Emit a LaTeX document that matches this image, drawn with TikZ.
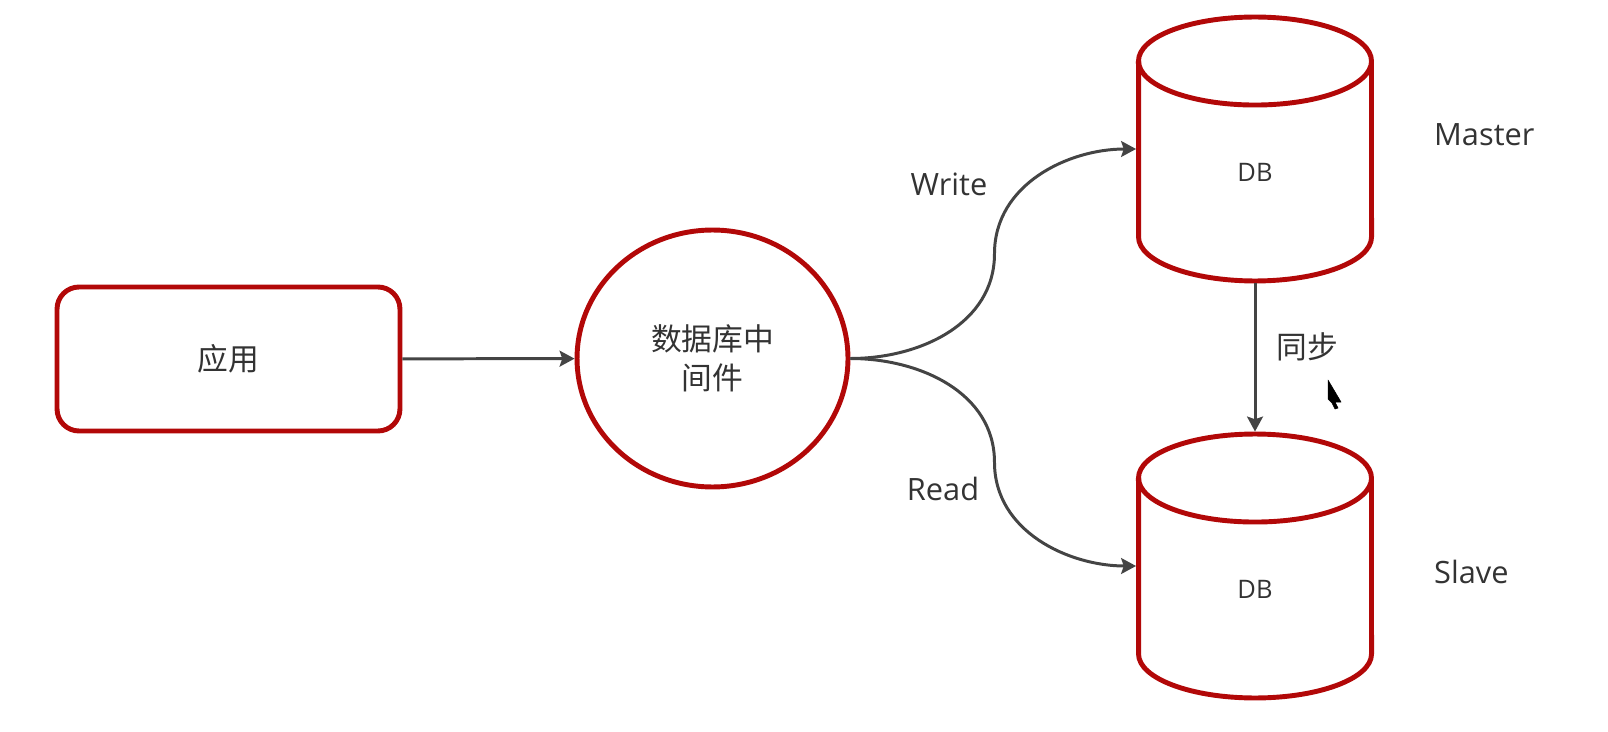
\documentclass[tikz,border=0pt]{standalone}
\usepackage{fontspec}
\setmainfont{Open Sans}
\newfontfamily\cjk{Noto Sans CJK SC}
\usetikzlibrary{arrows.meta,calc,positioning,shapes.geometric}
\definecolor{dbred}{RGB}{178,8,8}
\definecolor{linegray}{RGB}{68,68,68}
\definecolor{textgray}{RGB}{51,51,51}
\tikzset{
  redbox/.style={draw=dbred,line width=2.8pt,fill=white,text=textgray,inner sep=0pt},
  dbcyl/.style={minimum width=4.66cm,minimum height=5.28cm,inner sep=0pt,outer sep=0pt},
  flow/.style={draw=linegray,line width=1.7pt,-{Stealth[length=8.5pt,width=9pt,inset=1.5pt]}},
  lbl/.style={text=textgray,font=\fontsize{17.5}{22}\selectfont},
  cjklbl/.style={text=textgray,font=\cjk\fontsize{17.5}{22}\selectfont},
}

\begin{document}
\begin{tikzpicture}[x=0.02cm,y=0.02cm]
  \useasboundingbox (0,0) rectangle (1608,731);
  \node[redbox,cjklbl,rounded corners=0.44cm,minimum width=6.86cm,minimum height=2.88cm] (app) at (228.5,372) {应用};
  \node[redbox,cjklbl,ellipse,minimum width=5.42cm,minimum height=5.14cm,align=center] (mw) at (712.5,372.5) {数据库中\\间件};
  \node[dbcyl] (master) at (1255,582) {};
  \node[dbcyl] (slave) at (1255,165) {};
  \foreach \n in {master,slave}{
    \draw[dbred,line width=2.8pt,fill=white] ($(\n.north west)+(0,-44)$) -- ($(\n.south west)+(0,44)$)
      arc[start angle=180,end angle=360,x radius=116.5,y radius=44] -- ($(\n.north east)+(0,-44)$)
      arc[start angle=0,end angle=180,x radius=116.5,y radius=44] -- cycle;
    \draw[dbred,line width=2.8pt] ($(\n.north west)+(0,-44)$) arc[start angle=180,end angle=360,x radius=116.5,y radius=44];
    \node[text=textgray,font=\fontsize{14.5}{16}\selectfont] (\n-db) at ($(\n.center)+(0,-23)$) {DB};
  }
  \draw[flow] (app) -- (mw);
  \draw[flow,shorten >=1.4pt] (mw.east) to[out=0,in=-90] ($(mw.east)!0.5!(master.west)$) to[out=90,in=180] (master.west);
  \draw[flow,shorten >=1.4pt] (mw.east) to[out=0,in=90] ($(mw.east)!0.5!(slave.west)$) to[out=-90,in=180] (slave.west);
  \draw[flow,shorten <=1.4pt,shorten >=1.4pt] (master.south) -- (slave.north);
  \node[lbl] (write) at (949,547) {Write};
  \node[lbl] (read) at (943,242) {Read};
  \node[cjklbl] (sync) at (1307,384) {同步};
  \node[lbl,anchor=west] (mastername) at (1428,596) {Master};
  \node[lbl,anchor=west] (slavename) at (1428,159) {Slave};
  \draw[black,fill=black,line width=0.3pt,line join=round] (1328,351) -- ++(0,-19) -- ++(4,-4) -- ++(3,-6) -- ++(3,1) -- ++(-3,6) -- ++(6,0) -- cycle;
\end{tikzpicture}
\end{document}
